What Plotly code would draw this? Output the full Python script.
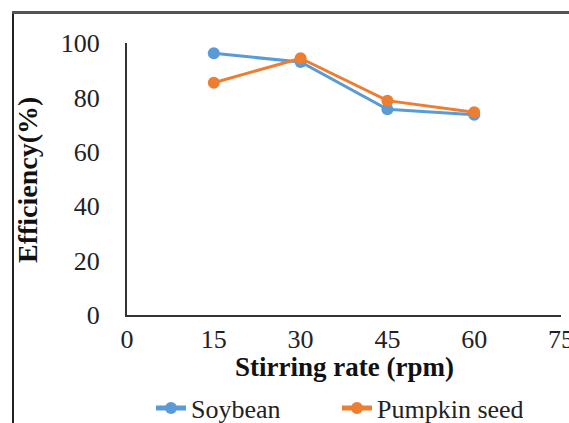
import plotly.graph_objects as go

stirring_rate = [15, 30, 45, 60]
soybean = [96.2, 93.0, 75.6, 73.6]
pumpkin_seed = [85.4, 94.4, 78.8, 74.5]
x_ticks = [0, 15, 30, 45, 60, 75]
y_ticks = [0, 20, 40, 60, 80, 100]

W, H = 569, 423
L, R, T, B = 127, 561, 43, 315  # plot area in px
pw, ph = R - L, B - T

def px(x):
    return (x - L) / pw

def py(y):
    return (B - y) / ph

FONT = "Liberation Serif, Times New Roman, serif"
BLUE = "#5B9BD5"
ORANGE = "#ED7D31"

fig = go.Figure()
fig.add_trace(go.Scatter(x=stirring_rate, y=soybean, name="Soybean", mode="lines+markers",
                         line=dict(color=BLUE, width=3), marker=dict(color=BLUE, size=12)))
fig.add_trace(go.Scatter(x=stirring_rate, y=pumpkin_seed, name="Pumpkin seed", mode="lines+markers",
                         line=dict(color=ORANGE, width=3), marker=dict(color=ORANGE, size=12)))

fig.update_layout(
    width=W, height=H,
    margin=dict(l=L, r=W - R, t=T, b=H - B, autoexpand=False),
    paper_bgcolor="white", plot_bgcolor="white",
    font=dict(family=FONT, size=26, color="#222"),
    showlegend=True,
    legend=dict(orientation="h", x=px(151), xanchor="left", y=py(408), yanchor="middle",
                font=dict(family=FONT, size=26, color="#222"),
                entrywidth=141, bgcolor="rgba(0,0,0,0)", itemsizing="constant"),
    xaxis=dict(range=[0, 75], tickvals=x_ticks, ticktext=[str(v) for v in x_ticks],
               showgrid=False, zeroline=False, showline=True, linecolor="#333", linewidth=2,
               ticks="", ticklabelstandoff=0, ticklabeloverflow="allow",
               tickfont=dict(size=26, color="#222"), fixedrange=True),
    yaxis=dict(range=[0, 100], tickvals=y_ticks, ticktext=[str(v) for v in y_ticks],
               showgrid=False, zeroline=False, showline=True, linecolor="#333", linewidth=2,
               ticks="", ticklabelstandoff=20, ticklabeloverflow="allow",
               tickfont=dict(size=26, color="#222"), fixedrange=True),
    annotations=[
        dict(text="<b>Stirring rate (rpm)</b>", xref="paper", yref="paper", x=0.5, y=py(367),
             xanchor="center", yanchor="middle", showarrow=False,
             font=dict(family=FONT, size=27, color="#111")),
        dict(text="<b>Efficiency(%)</b>", xref="paper", yref="paper", x=px(27), y=py(180),
             xanchor="center", yanchor="middle", showarrow=False, textangle=-90,
             font=dict(family=FONT, size=28, color="#111")),
    ],
    shapes=[
        dict(type="line", xref="paper", yref="paper", x0=px(13), x1=px(13), y0=py(11.5), y1=py(440),
             line=dict(color="#222", width=2)),
        dict(type="line", xref="paper", yref="paper", x0=px(12), x1=px(600), y0=py(12.5), y1=py(12.5),
             line=dict(color="#555", width=3)),
    ],
)

html = fig.to_html(full_html=True, include_plotlyjs=True,
                   config={"displayModeBar": False, "staticPlot": True})
html = html.replace("<body>", '<body style="margin:0;padding:0;overflow:hidden">', 1)
with open("out.html", "w", encoding="utf-8") as f:
    f.write(html)
